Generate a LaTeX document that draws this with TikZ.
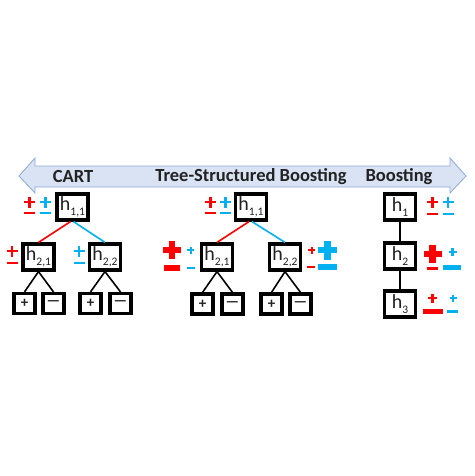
\documentclass[tikz,border=0pt]{standalone}
\usepackage{fontspec}
\setmainfont{Carlito}
\definecolor{sred}{HTML}{FF0000}
\definecolor{sblue}{HTML}{00B0F0}
\definecolor{arrfill}{HTML}{DAE3F3}
\definecolor{arrline}{HTML}{8FAADC}
\definecolor{txt}{HTML}{222222}
\newcommand\plusmark[5]{%
  \fill[#1] ({#2-#4/2},{#3-#5/2}) rectangle ({#2+#4/2},{#3+#5/2});
  \fill[#1] ({#2-#5/2},{#3-#4/2}) rectangle ({#2+#5/2},{#3+#4/2});}
\newcommand\minusmark[5]{%
  \fill[#1] ({#2-#4/2},{#3-#5/2}) rectangle ({#2+#4/2},{#3+#5/2});}
\newcommand\hsub[2]{h\raisebox{-0.5ex}{\fontsize{11.5}{11.5}\selectfont #2}}
\begin{document}
\begin{tikzpicture}[x=1pt,y=-1pt,
  hbox/.style={draw,line width=3.2pt,minimum width=31pt,minimum height=26pt,inner sep=0pt,text=txt,font=\fontsize{20}{20}\selectfont},
  leaf/.style={draw,line width=3.2pt,minimum width=21pt,minimum height=20pt,inner sep=0pt,text=txt,font=\fontsize{15}{15}\selectfont\bfseries},
  redline/.style={sred,line width=1.6pt},
  blueline/.style={sblue,line width=1.6pt},
  blkline/.style={black,line width=1.6pt},
  lbl/.style={font=\fontsize{18.5}{18.5}\selectfont\bfseries,text=txt}]
\useasboundingbox (0,0) rectangle (474,476);
\fill[white] (0,0) rectangle (474,476);
% double arrow
\draw[arrline,fill=arrfill,line width=0.8pt] (19,176) -- (35,158) -- (35,166) -- (450,166) -- (450,158) -- (466,176) -- (450,193) -- (450,187) -- (35,187) -- (35,193) -- cycle;
\node[lbl] (tcart) at (73,176.5) {CART};
\node[lbl] (ttsb) at (251,176.5) {Tree-Structured Boosting};
\node[lbl] (tboost) at (399,176.5) {Boosting};
% CART tree
\node[hbox] (c11) at (72.5,207) {\hsub{}{1,1}};
\node[hbox] (c21) at (38.5,257) {\hsub{}{2,1}};
\node[hbox] (c22) at (105,257) {\hsub{}{2,2}};
\node[leaf] (c1p) at (24.5,303.5) {+};
\node[leaf] (c1m) at (53.5,303.5) {—};
\node[leaf] (c2p) at (90.5,303.5) {+};
\node[leaf] (c2m) at (120.5,303.5) {—};
\draw[redline] ([xshift=-2pt]c11.south) -- (c21.north);
\draw[blueline] ([xshift=1pt]c11.south) -- (c22.north);
\draw[blkline] (c21.south) -- (c1p.north);
\draw[blkline] (c21.south) -- (c1m.north);
\draw[blkline] (c22.south) -- (c2p.north);
\draw[blkline] (c22.south) -- (c2m.north);
% Tree-structured boosting tree
\node[hbox] (t11) at (251,207) {\hsub{}{1,1}};
\node[hbox] (t21) at (217,257) {\hsub{}{2,1}};
\node[hbox] (t22) at (285,257) {\hsub{}{2,2}};
\node[leaf] (t1p) at (202.5,304) {+};
\node[leaf] (t1m) at (232.5,304) {—};
\node[leaf] (t2p) at (271.5,304) {+};
\node[leaf] (t2m) at (300.5,304) {—};
\draw[redline] ([xshift=-2pt]t11.south) -- (t21.north);
\draw[blueline] ([xshift=1pt]t11.south) -- (t22.north);
\draw[blkline] (t21.south) -- (t1p.north);
\draw[blkline] (t21.south) -- (t1m.north);
\draw[blkline] (t22.south) -- (t2p.north);
\draw[blkline] (t22.south) -- (t2m.north);
% Boosting chain
\node[hbox] (b1) at (400,207) {\hsub{}{1}};
\node[hbox] (b2) at (400,256) {\hsub{}{2}};
\node[hbox] (b3) at (400,304) {\hsub{}{3}};
\draw[blkline] (b1.south) -- (b2.north);
\draw[blkline] (b2.south) -- (b3.north);
% signs CART
\plusmark{sred}{29.5}{202}{11}{2.8} \minusmark{sred}{29.5}{213}{11}{2.8}
\plusmark{sblue}{45.5}{202}{11}{2.8} \minusmark{sblue}{45.5}{213}{11}{2.8}
\plusmark{sred}{12}{251}{11}{2.8} \minusmark{sred}{12}{263}{11}{2.8}
\plusmark{sblue}{79}{251}{11}{2.8} \minusmark{sblue}{79}{263}{11}{2.8}
% signs TSB
\plusmark{sred}{210.5}{202}{11}{2.8} \minusmark{sred}{210.5}{213}{11}{2.8}
\plusmark{sblue}{225.5}{202}{11}{2.8} \minusmark{sblue}{225.5}{213}{11}{2.8}
\plusmark{sred}{172}{250}{18}{6} \minusmark{sred}{172}{267.5}{16}{6}
\plusmark{sblue}{190.5}{250}{7}{2} \minusmark{sblue}{191}{268}{8}{2.6}
\plusmark{sred}{311.5}{250}{7}{2} \minusmark{sred}{311}{267}{8}{2.6}
\plusmark{sblue}{327.5}{250}{19}{6.5} \minusmark{sblue}{327.5}{267}{19}{6}
% signs Boosting
\plusmark{sred}{432.5}{202}{11}{2.8} \minusmark{sred}{432.5}{214}{11}{2.8}
\plusmark{sblue}{448}{202}{11}{2.8} \minusmark{sblue}{448}{214}{11}{2.8}
\plusmark{sred}{432.5}{254}{18}{6.5} \minusmark{sred}{432.5}{268}{11}{3}
\plusmark{sblue}{452.5}{252}{8}{2.2} \minusmark{sblue}{452}{267.5}{18}{5}
\plusmark{sred}{432.5}{298}{9}{2.5} \minusmark{sred}{433}{311.5}{20}{5}
\plusmark{sblue}{453}{298}{7}{2} \minusmark{sblue}{452.5}{311.5}{11}{2.8}
\end{tikzpicture}
\end{document}
